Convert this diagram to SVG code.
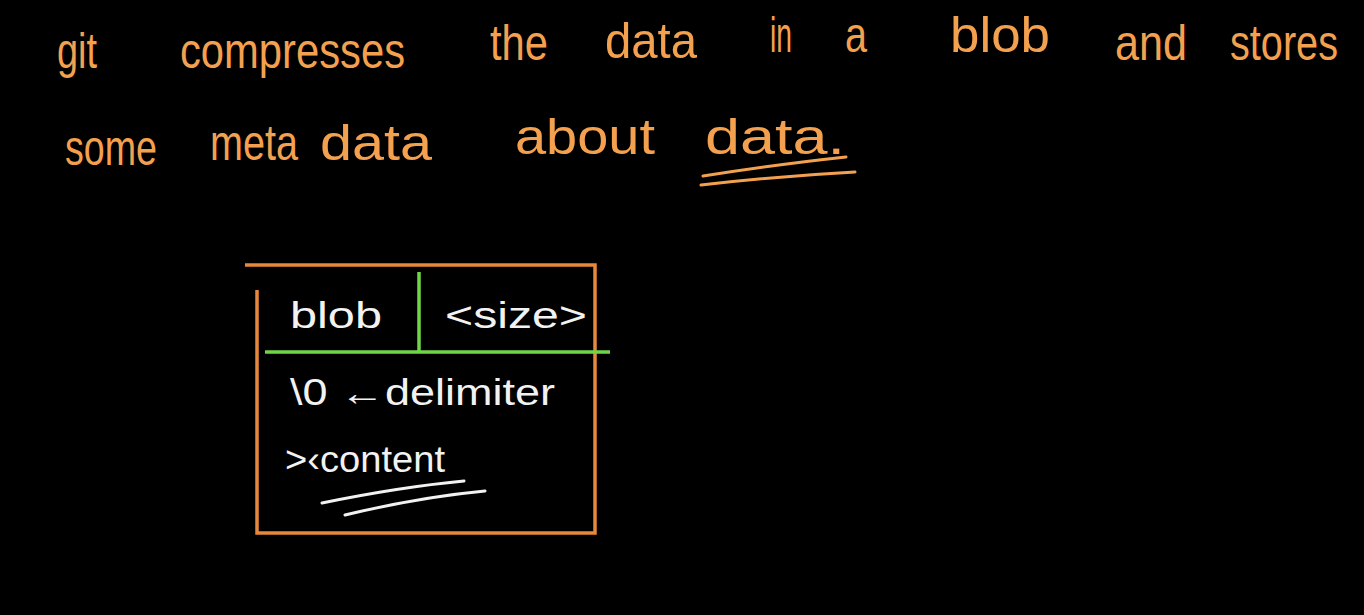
<svg xmlns="http://www.w3.org/2000/svg" width="1364" height="615" viewBox="0 0 1364 615">
<style>
.o{fill:#F3A14F;font-family:"Liberation Sans",sans-serif;font-size:50px}
.w{fill:#F2F2F2;font-family:"Liberation Sans",sans-serif;font-size:36px}
.os{stroke:#F3A14F;stroke-width:3;fill:none;stroke-linecap:round}
.bx{stroke:#E8883A;stroke-width:3.5;fill:none}
.gr{stroke:#6FD645;stroke-width:3.5;fill:none}
.ws{stroke:#F2F2F2;stroke-width:3;fill:none;stroke-linecap:round}
</style>
<rect width="1364" height="615" fill="#000"/>
<g id="heading">
<text class="o" x="57" y="68" textLength="40" lengthAdjust="spacingAndGlyphs">git</text>
<text class="o" x="180" y="68" textLength="225" lengthAdjust="spacingAndGlyphs">compresses</text>
<text class="o" x="490" y="60" textLength="58" lengthAdjust="spacingAndGlyphs">the</text>
<text class="o" x="605" y="58" textLength="92" lengthAdjust="spacingAndGlyphs">data</text>
<text class="o" x="770" y="52" textLength="22" lengthAdjust="spacingAndGlyphs">in</text>
<text class="o" x="845" y="52" textLength="22" lengthAdjust="spacingAndGlyphs">a</text>
<text class="o" x="950" y="52" textLength="100" lengthAdjust="spacingAndGlyphs">blob</text>
<text class="o" x="1115" y="60" textLength="72" lengthAdjust="spacingAndGlyphs">and</text>
<text class="o" x="1230" y="60" textLength="108" lengthAdjust="spacingAndGlyphs">stores</text>
<text class="o" x="65" y="165" textLength="92" lengthAdjust="spacingAndGlyphs">some</text>
<text class="o" x="210" y="160" textLength="88" lengthAdjust="spacingAndGlyphs">meta</text>
<text class="o" x="320" y="160" textLength="112" lengthAdjust="spacingAndGlyphs">data</text>
<text class="o" x="515" y="154" textLength="140" lengthAdjust="spacingAndGlyphs">about</text>
<text class="o" x="705" y="154" textLength="140" lengthAdjust="spacingAndGlyphs">data.</text>
<path class="os" d="M703 176 Q780 164 846 157"/>
<path class="os" d="M701 185 Q780 176 855 172"/>
</g>
<g id="blob-box">
<path class="bx" d="M245 265 H595 V533 H257 V290"/>
<path class="gr" d="M265 352 H610 M419 272 V352"/>
<text class="w" x="290" y="328" textLength="92" lengthAdjust="spacingAndGlyphs">blob</text>
<text class="w" x="445" y="328" textLength="142" lengthAdjust="spacingAndGlyphs">&lt;size&gt;</text>
<text class="w" x="290" y="405" textLength="265" lengthAdjust="spacingAndGlyphs">\0 ←delimiter</text>
<text class="w" x="285" y="472" textLength="160" lengthAdjust="spacingAndGlyphs">&gt;‹content</text>
<path class="ws" d="M322 503 Q400 487 464 481"/>
<path class="ws" d="M345 515 Q420 497 485 491"/>
</g>
</svg>
